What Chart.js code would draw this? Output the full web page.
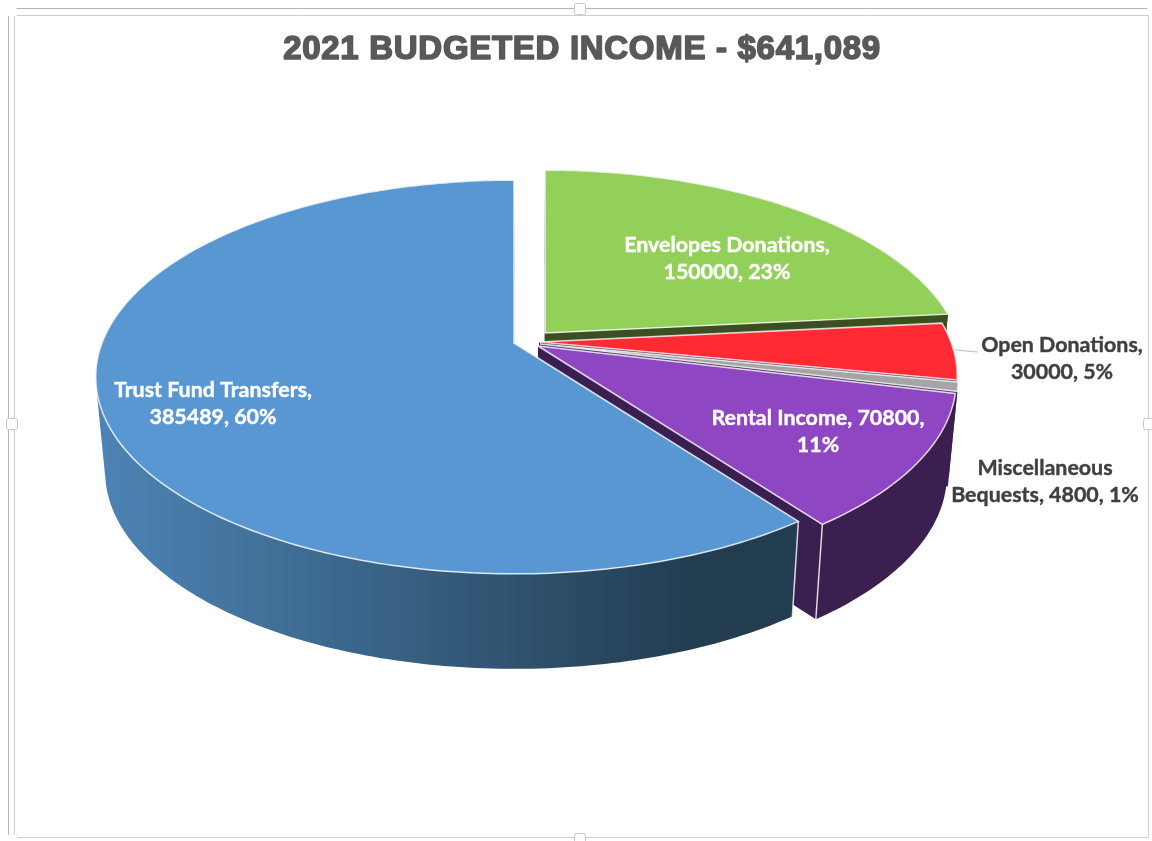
<!DOCTYPE html>
<html>
<head>
<meta charset="utf-8">
<title>2021 Budgeted Income</title>
<style>
  html, body { margin: 0; background: #fff; }
  canvas { display: block; }
</style>
<script src="https://cdn.jsdelivr.net/npm/chart.js@4/dist/chart.umd.min.js"></script>
</head>
<body>
<canvas id="canvas" width="1152" height="841"></canvas>
<script>
const titleText = '2021 BUDGETED INCOME - $641,089';
const categories = ['Envelopes Donations', 'Open Donations', 'Miscellaneous Bequests', 'Rental Income', 'Trust Fund Transfers'];
const amounts = [150000, 30000, 4800, 70800, 385489];
const topColors = ['#92d05a', '#ff2a32', '#a5a5a5', '#8e46c2', '#5897d1'];
const wallColors = ['#3a5020', '#3b1f50', '#3b1f50', '#3b1f50', '#223c50'];
// how many words go on the first line of each label
const labelBreaks = [2, 2, 1, 3, 3];

// where each exploded slice has its tip on the page
const sliceTips = [[545, 333], [539, 342], [540, 344], [538, 346], [514, 343]];
const labelSpots = [[727, 245], [1062, 345], [1045, 468], [818, 418], [213, 390]];
const labelInks = ['#fff', '#404040', '#404040', '#fff', '#fff'];

const RX = 412, RY = 191, PERSP = 0.1726, DEPTH = 95, SHRINK = 0.978, VANISH_X = 526;
const TITLE_SIZE = 33, TITLE_PAD = 30, TITLE_SPACING = '0.7px';

function project(tip, angle, r, low) {
  const u = r * Math.cos(angle), v = r * Math.sin(angle);
  const p = 1 / (1 - PERSP * v);
  let x = tip[0] + RX * u * p, y = tip[1] + RY * v * p;
  if (low) {
    x = VANISH_X + (x - VANISH_X) * SHRINK;
    y += DEPTH;
  }
  return [x, y];
}

function rim(tip, a0, a1, low) {
  const n = Math.max(4, Math.ceil(Math.abs(a1 - a0) * 60));
  const pts = [];
  for (let i = 0; i <= n; i++) pts.push(project(tip, a0 + (a1 - a0) * i / n, 1, low));
  return pts;
}

function tracePoly(ctx, pts) {
  pts.forEach((p, i) => i ? ctx.lineTo(p[0], p[1]) : ctx.moveTo(p[0], p[1]));
  ctx.closePath();
}

function fillPoly(ctx, pts, fill) {
  ctx.beginPath();
  tracePoly(ctx, pts);
  ctx.fillStyle = fill;
  ctx.fill();
}

function drawFrame(ctx) {
  ctx.save();
  ctx.lineWidth = 1;
  ctx.strokeStyle = '#b4b4b4';
  ctx.beginPath();
  ctx.moveTo(16.5, 8.5); ctx.lineTo(1147.5, 8.5);
  ctx.moveTo(8.5, 16); ctx.lineTo(8.5, 835);
  ctx.stroke();
  ctx.strokeStyle = '#cfcfcf';
  ctx.beginPath();
  ctx.moveTo(16.5, 15.5); ctx.lineTo(1148.5, 15.5); ctx.lineTo(1148.5, 837.5); ctx.lineTo(17, 837.5);
  ctx.moveTo(14.5, 16); ctx.lineTo(14.5, 835);
  ctx.stroke();
  const handles = [[580, 9], [580, 839], [12, 424], [1149, 424]];
  handles.forEach(h => {
    ctx.fillStyle = '#fff';
    ctx.strokeStyle = '#c8c8c8';
    ctx.beginPath();
    ctx.roundRect(h[0] - 5.5, h[1] - 5.5, 11, 11, 2);
    ctx.fill();
    ctx.stroke();
  });
  ctx.restore();
}

const pie3d = {
  id: 'pie3d',
  beforeDraw(chart) {
    drawFrame(chart.ctx);
    chart.ctx.letterSpacing = TITLE_SPACING;
  },
  beforeDatasetsDraw(chart) {
    const ctx = chart.ctx;
    const arcs = chart.getDatasetMeta(0).data;

    // the reference title is heavier than plain bold
    ctx.save();
    ctx.font = 'bold ' + TITLE_SIZE + 'px "Liberation Sans"';
    ctx.textAlign = 'center';
    ctx.textBaseline = 'middle';
    ctx.strokeStyle = '#595959';
    ctx.lineWidth = 1.6;
    ctx.lineJoin = 'round';
    ctx.strokeText(titleText, 582, chart.titleBlock.top + TITLE_PAD + TITLE_SIZE * 0.6);
    ctx.restore();
    ctx.letterSpacing = '0px';

    ctx.save();
    arcs.forEach((arc, i) => {
      const tip = sliceTips[i];
      const a0 = arc.startAngle, a1 = arc.endAngle;
      const top = rim(tip, a0, a1, false);
      const low = rim(tip, a0, a1, true);
      const lowTip = [VANISH_X + (tip[0] - VANISH_X) * SHRINK, tip[1] + DEPTH];

      // cut faces
      fillPoly(ctx, [tip, top[0], low[0], lowTip], wallColors[i]);
      fillPoly(ctx, [tip, top[top.length - 1], low[low.length - 1], lowTip], wallColors[i]);

      // outer wall, swept segment by segment so the silhouette stays closed
      let wall = wallColors[i];
      if (i === 4) {
        wall = ctx.createLinearGradient(100, 0, 700, 0);
        wall.addColorStop(0, '#4d84b5');
        wall.addColorStop(1, '#223c50');
      }
      ctx.beginPath();
      for (let k = 0; k < top.length - 1; k++) {
        const a = top[k], b = top[k + 1], c = low[k + 1], d = low[k];
        const quad = (b[0] - a[0]) * (d[1] - a[1]) - (b[1] - a[1]) * (d[0] - a[0]) > 0 ? [a, b, c, d] : [d, c, b, a];
        tracePoly(ctx, quad);
      }
      ctx.fillStyle = wall;
      ctx.fill();

      // front corners
      ctx.strokeStyle = 'rgba(255,255,255,0.8)';
      ctx.lineWidth = 1.5;
      [0, top.length - 1].forEach(k => {
        if (top[k][1] - tip[1] > RY * 0.5) {
          ctx.beginPath();
          ctx.moveTo(top[k][0], top[k][1]);
          ctx.lineTo(low[k][0], low[k][1]);
          ctx.stroke();
        }
      });

      // top face
      fillPoly(ctx, [tip].concat(top), arc.options.backgroundColor);
      ctx.stroke();
    });
    ctx.restore();
    drawLabels(ctx);
    return false;
  }
};

function drawLabels(ctx) {
  const total = amounts.reduce((a, b) => a + b, 0);
  ctx.save();
  // leader line for the small red slice
  ctx.strokeStyle = '#bdbdbd';
  ctx.lineWidth = 1.2;
  ctx.beginPath();
  ctx.moveTo(955, 350);
  ctx.lineTo(978, 352);
  ctx.stroke();

  ctx.font = 'bold 21.4px Lato';
  ctx.textAlign = 'center';
  ctx.textBaseline = 'middle';
  ctx.lineWidth = 0.4;
  categories.forEach((name, i) => {
    const pct = Math.round(amounts[i] / total * 100);
    const words = (name + ', ' + amounts[i] + ', ' + pct + '%').split(' ');
    const lines = [words.slice(0, labelBreaks[i]).join(' '), words.slice(labelBreaks[i]).join(' ')];
    ctx.fillStyle = labelInks[i];
    ctx.strokeStyle = labelInks[i];
    lines.forEach((line, k) => {
      ctx.fillText(line, labelSpots[i][0], labelSpots[i][1] + k * 27);
      ctx.strokeText(line, labelSpots[i][0], labelSpots[i][1] + k * 27);
    });
  });
  ctx.restore();
}

new Chart(document.getElementById('canvas'), {
  type: 'pie',
  data: {
    labels: categories,
    datasets: [{ data: amounts, backgroundColor: topColors, borderWidth: 0 }]
  },
  options: {
    responsive: false,
    animation: false,
    layout: { padding: { left: 12 } },
    plugins: {
      legend: { display: false },
      tooltip: { enabled: false },
      title: {
        display: true,
        text: titleText,
        color: '#595959',
        font: { family: 'Liberation Sans', size: TITLE_SIZE, weight: 'bold' },
        padding: { top: TITLE_PAD, bottom: 10 }
      }
    }
  },
  plugins: [pie3d]
});
</script>
</body>
</html>
